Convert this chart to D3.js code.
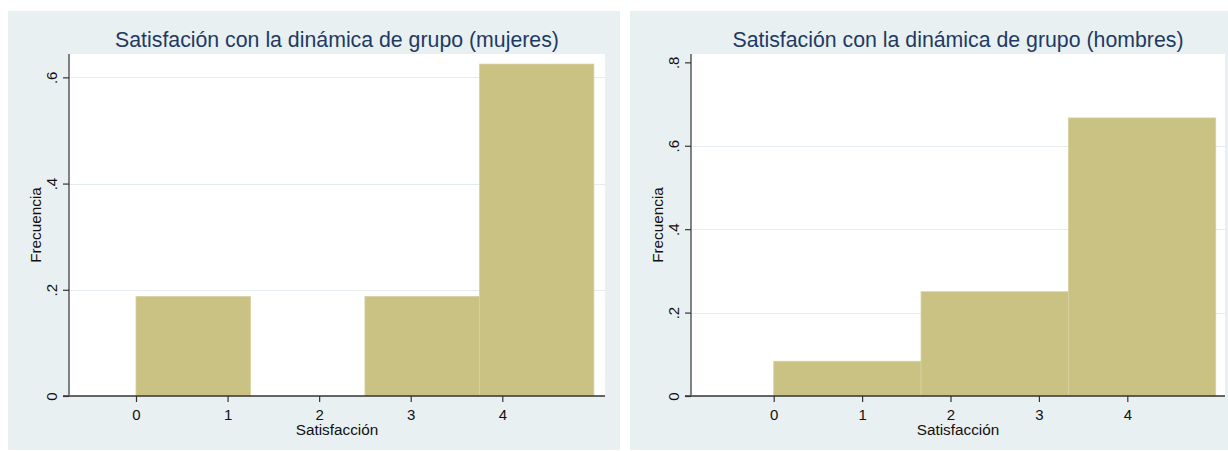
<!DOCTYPE html>
<html>
<head>
<meta charset="utf-8">
<script src="https://cdn.jsdelivr.net/npm/d3@7"></script>
<style>
  html, body { margin: 0; padding: 0; background: #ffffff; }
  svg { display: block; font-family: "Liberation Sans", Arial, sans-serif; }
</style>
</head>
<body>
<svg id="chart" width="1228" height="451"></svg>
<script>
// Histogram data: bin edges and fraction of responses per bin
const binEdgesMujeres = [0, 1.25, 2.5, 3.75, 5];
const freqMujeres = [0.1875, 0, 0.1875, 0.625];

const binEdgesHombres = [0, 1.6667, 3.3333, 5];
const freqHombres = [0.0833, 0.25, 0.6667];

const xTickValues = [0, 1, 2, 3, 4];
const yTicksMujeres = [0, 0.2, 0.4, 0.6];
const yTicksHombres = [0, 0.2, 0.4, 0.6, 0.8];

const titleMujeres = "Satisfación con la dinámica de grupo (mujeres)";
const titleHombres = "Satisfación con la dinámica de grupo (hombres)";
const xAxisTitle = "Satisfacción";
const yAxisTitle = "Frecuencia";

const COLORS = {
  panel: "#e9f0f2",
  plot: "#ffffff",
  grid: "#e3ebee",
  bar: "#cac283",
  barEdge: "#d6d0a2",
  title: "#1f3a62",
  text: "#111111",
  axis: "#333333",
  yAxis: "#5a5a5a"
};

const svg = d3.select("#chart");

// Strip the leading zero the way the tick labels read: 0, .2, .4 ...
const fmtY = v => v === 0 ? "0" : d3.format(".1f")(v).replace(/^0/, "");

function drawPanel(cfg) {
  const g = svg.append("g");

  // outer panel
  g.append("rect")
    .attr("x", cfg.panel[0]).attr("y", cfg.panel[1])
    .attr("width", cfg.panel[2]).attr("height", cfg.panel[3])
    .attr("fill", COLORS.panel);

  const x = d3.scaleLinear().domain(cfg.xDomain).range([cfg.plot.left, cfg.plot.right]);
  const y = d3.scaleLinear().domain(cfg.yDomain).range([cfg.plot.bottom, cfg.plot.top]);

  // plot region
  g.append("rect")
    .attr("x", cfg.plot.left).attr("y", cfg.plot.top)
    .attr("width", cfg.plot.right - cfg.plot.left)
    .attr("height", cfg.plot.bottom - cfg.plot.top)
    .attr("fill", COLORS.plot);

  // horizontal gridlines (skipped at the baseline and at the top tick)
  g.append("g").selectAll("line")
    .data(cfg.yTicks.filter(t => t > 0 && t < cfg.gridMax))
    .join("line")
    .attr("x1", cfg.plot.left).attr("x2", cfg.plot.right)
    .attr("y1", d => Math.round(y(d)) + 0.5).attr("y2", d => Math.round(y(d)) + 0.5)
    .attr("stroke", COLORS.grid).attr("stroke-width", 1.2);

  // histogram bars
  const bins = cfg.freq.map((f, i) => ({ x0: cfg.edges[i], x1: cfg.edges[i + 1], f }));
  g.append("g").selectAll("rect")
    .data(bins.filter(b => b.f > 0))
    .join("rect")
    .attr("x", d => x(d.x0))
    .attr("y", d => y(d.f))
    .attr("width", d => x(d.x1) - x(d.x0))
    .attr("height", d => y(0) - y(d.f))
    .attr("fill", COLORS.bar)
    .attr("stroke", COLORS.barEdge)
    .attr("stroke-width", 0.8);

  // x axis
  const xAxis = d3.axisBottom(x).tickValues(xTickValues).tickFormat(d3.format("d"))
    .tickSizeInner(6).tickSizeOuter(0).tickPadding(8);
  const gx = g.append("g")
    .attr("transform", `translate(0,${cfg.plot.bottom})`)
    .call(xAxis);
  gx.select(".domain").attr("stroke", COLORS.axis).attr("stroke-width", 1.3)
    .attr("d", `M${cfg.plot.left - 6},0H${cfg.plot.right}`);
  gx.selectAll(".tick line").attr("stroke", COLORS.axis).attr("stroke-width", 1.2);
  gx.selectAll(".tick text")
    .attr("fill", COLORS.text).attr("font-size", 15)
    .attr("font-family", "Liberation Sans, Arial, sans-serif")
    .attr("dy", null).attr("y", 24);

  // y axis
  const yAxis = d3.axisLeft(y).tickValues(cfg.yTicks).tickFormat(fmtY)
    .tickSizeInner(6).tickSizeOuter(0).tickPadding(0);
  const gy = g.append("g")
    .attr("transform", `translate(${cfg.plot.left},0)`)
    .call(yAxis);
  gy.select(".domain").attr("stroke", COLORS.yAxis).attr("stroke-width", 1.5)
    .attr("d", `M0,${cfg.plot.top}V${cfg.plot.bottom}`);
  gy.selectAll(".tick line").attr("stroke", COLORS.axis).attr("stroke-width", 1.2);
  gy.selectAll(".tick text")
    .attr("fill", COLORS.text).attr("font-size", 15)
    .attr("font-family", "Liberation Sans, Arial, sans-serif")
    .attr("x", null).attr("dy", null)
    .attr("text-anchor", "middle")
    .attr("transform", "translate(-12,0) rotate(-90)");

  const cx = (cfg.plot.left + cfg.plot.right) / 2;
  const cy = (cfg.plot.top + cfg.plot.bottom) / 2;

  // titles
  g.append("text")
    .attr("x", cx).attr("y", 47)
    .attr("text-anchor", "middle")
    .attr("font-size", 21.3)
    .attr("fill", COLORS.title)
    .text(cfg.title);

  g.append("text")
    .attr("x", cx).attr("y", cfg.plot.bottom + 39)
    .attr("text-anchor", "middle")
    .attr("font-size", 15.3)
    .attr("fill", COLORS.text)
    .text(xAxisTitle);

  g.append("text")
    .attr("transform", `translate(${cfg.plot.left - 28},${cy}) rotate(-90)`)
    .attr("text-anchor", "middle")
    .attr("font-size", 15.3)
    .attr("fill", COLORS.text)
    .text(yAxisTitle);
}

drawPanel({
  panel: [8, 11, 612, 439],
  plot: { left: 69, right: 605, top: 54, bottom: 396 },
  xDomain: [-0.7316, 5.1215],
  yDomain: [0, 0.644],
  yTicks: yTicksMujeres,
  gridMax: 0.62,
  edges: binEdgesMujeres,
  freq: freqMujeres,
  title: titleMujeres
});

drawPanel({
  panel: [630, 11, 598, 439],
  plot: { left: 691, right: 1225, top: 54, bottom: 396 },
  xDomain: [-0.9355, 5.105],
  yDomain: [0, 0.82],
  yTicks: yTicksHombres,
  gridMax: 0.7,
  edges: binEdgesHombres,
  freq: freqHombres,
  title: titleHombres
});
</script>
</body>
</html>
